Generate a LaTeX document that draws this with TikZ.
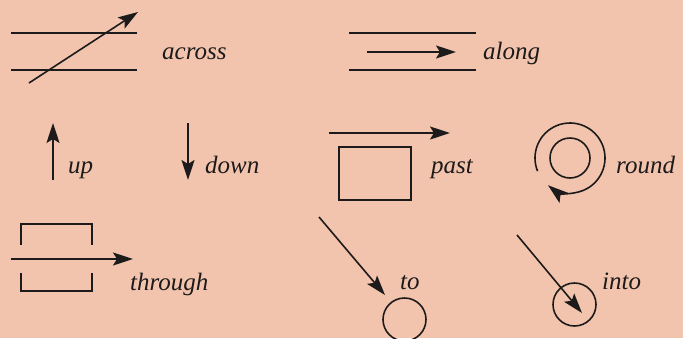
\documentclass[tikz,border=0pt]{standalone}
\usepackage{fontspec}
\setmainfont{Liberation Serif}[ItalicFont={Liberation Serif Italic}]
\usetikzlibrary{arrows.meta}
\definecolor{bg}{RGB}{243,196,173}
\definecolor{ink}{RGB}{28,26,26}
\tikzset{
  ln/.style={line width=1.6pt, draw=ink},
  arr/.style={ln, -{Stealth[length=20pt,width=13pt,inset=4pt]}},
  lbl/.style={anchor=base west, inner sep=0pt, text=ink, font=\fontsize{25}{28}\selectfont\itshape}
}
\begin{document}
\begin{tikzpicture}[x=1pt,y=-1pt]
\fill[bg] (0,0) rectangle (683,338);
\useasboundingbox (0,0) rectangle (683,338);
% across
\draw[ln] (11,33) -- (137,33);
\draw[ln] (11,70) -- (137,70);
\coordinate (ac1) at (29,83); \coordinate (ac2) at (138,12);
\draw[arr] (ac1) -- (ac2);
\node[lbl] (across) at (162,59) {across};
% along
\draw[ln] (349,33) -- (476,33);
\draw[ln] (349,70) -- (476,70);
\coordinate (al1) at (367,52); \coordinate (al2) at (456,52);
\draw[arr] (al1) -- (al2);
\node[lbl] (along) at (483,59) {along};
% up
\coordinate (u1) at (53,180); \coordinate (u2) at (53,123);
\draw[arr] (u1) -- (u2);
\node[lbl] (up) at (68,173) {up};
% down
\coordinate (d1) at (188,123); \coordinate (d2) at (188,180);
\draw[arr] (d1) -- (d2);
\node[lbl] (down) at (205,173) {down};
% past
\coordinate (p1) at (329,133); \coordinate (p2) at (450,133);
\draw[arr] (p1) -- (p2);
\draw[ln] (339,147) rectangle (411,200);
\node[lbl] (past) at (431,173) {past};
% round
\coordinate (rc) at (570,158);
\draw[ln] (rc) circle[radius=20];
\draw[arr] (rc) ++(158:35) arc[start angle=158, end angle=489, radius=35];
\node[lbl] (round) at (616,173) {round};
% through
\draw[ln] (21,245) -- (21,224) -- (92,224) -- (92,245);
\draw[ln] (21,273) -- (21,291) -- (92,291) -- (92,273);
\coordinate (t1) at (11,259); \coordinate (t2) at (133,259);
\draw[arr] (t1) -- (t2);
\node[lbl] (through) at (130,290) {through};
% to
\coordinate (to1) at (319,217); \coordinate (to2) at (385,295);
\draw[arr] (to1) -- (to2);
\draw[ln] (404.5,319.5) circle[radius=21.5];
\node[lbl] (to) at (400,289) {to};
% into
\coordinate (in1) at (517,235); \coordinate (in2) at (582,313);
\draw[ln] (574.5,304.5) circle[radius=21.5];
\draw[arr] (in1) -- (in2);
\node[lbl] (into) at (602,289) {into};
\end{tikzpicture}
\end{document}
